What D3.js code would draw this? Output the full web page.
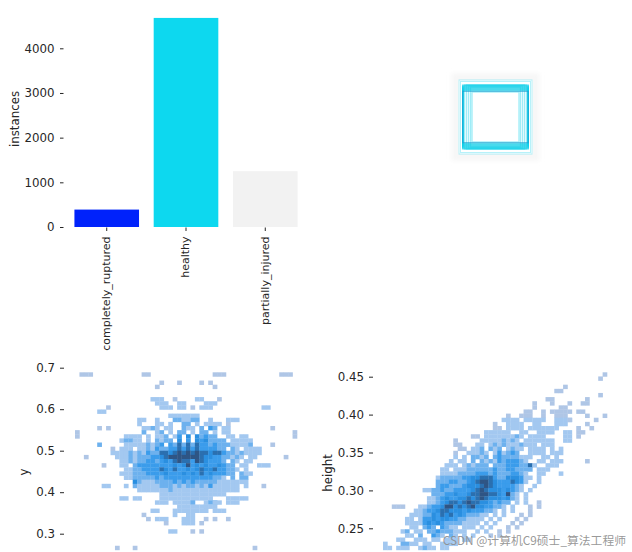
<!DOCTYPE html>
<html><head><meta charset="utf-8">
<script src="https://cdn.jsdelivr.net/npm/d3@7"></script>
<style>html,body{margin:0;padding:0;background:#fff}svg{display:block}</style></head>
<body><div id="c"></div>
<script>
const categories=["completely_ruptured","healthy","partially_injured"];
const instances=[390,4680,1250];
const barColors=["#0424fb","#10d8ef","#f2f2f2"];
const barTicks=[0,1000,2000,3000,4000];
const yTicks=[0.3,0.4,0.5,0.6,0.7];
const heightTicks=[0.25,0.30,0.35,0.40,0.45];
const outerBoxes=[[.73,.74],[.70,.71]];
const wideBoxes=[[.655,.53],[.655,.54],[.655,.55],[.655,.56],[.655,.57],[.655,.58],[.655,.59],[.655,.60],[.655,.61],[.655,.62],[.655,.63],[.655,.64]];
const narrowBoxes=[[.50,.60],[.54,.62],[.58,.64],[.62,.64],[.47,.50]];
const edgeBox=[[.655,.515]];
// heat levels per bin: "startBin:levels" for each row of the histogram
const yHist=[
"1:111 15:11 31:111 46:111","",
"19:1 23:1 28:1 30:1","18:1 31:1","","",
"17:222 22:1 27:22 32:1","18:222 23:22 29:222",
"7:1 19:222 23:22 26:1 28:222 42:22","5:22",
"21:2222222","14:22 18:2 22:332233 30:2 34:222",
"14:2 18:22 21:2 24:33 27:2 29:22 31:22 34:1",
"5:1 7:1 15:22 17:3 18:2 20:22 24:3 25:22 28:3 30:43 33:22 44:1",
"0:1 15:3 18:2 19:3 21:2 23:33 26:2 28:3 29:3 31:2 33:22 49:1",
"0:1 11:2222 16:2 18:22 20:3 22:2 23:4 25:5 27:5 28:3 29:43 31:3 34:22 37:22 49:1",
"10:23322 16:2 18:32 20:33 23:5 25:4 27:5 28:4 29:53 31:33 33:3 35:22 37:222",
"5:3 11:2222 15:2 16:32 18:3 19:4 21:4 22:3 23:6 24:3 25:6 26:3 27:6 28:4 29:4 30:3 31:4 32:3 33:3 34:32 36:2 37:223 44:1",
"8:1 10:222 14:22 16:3 17:2 18:4 19:3 20:3 21:4 22:4 23:6 24:4 25:6 26:4 27:6 28:4 29:4 30:4 31:4 32:3 33:3 35:3 36:2 38:222 41:2",
"8:22 10:22 12:3 13:2 14:3 15:2 16:4 17:3 18:3 19:6 20:6 21:5 22:6 23:7 24:6 25:7 26:6 27:7 28:6 29:6 30:5 31:6 32:6 33:4 34:3 35:3 36:2 37:3 38:2 39:222",
"2:1 9:22 11:2 12:3 13:2 14:3 15:3 16:3 17:4 18:4 19:5 20:6 21:7 22:7 23:7 24:7 25:7 26:7 27:7 28:6 29:5 30:5 31:4 32:4 33:3 34:3 35:2 36:3 37:2 39:22 47:1",
"10:22 12:3 13:2 14:3 15:3 16:4 17:4 18:3 19:4 20:5 21:4 22:6 23:7 24:6 25:6 26:4 27:7 28:6 29:5 30:4 31:4 32:4 33:3 35:3 36:2 38:22",
"6:1 10:22 13:3 14:4 15:4 16:4 17:4 18:4 19:4 20:4 21:4 22:5 23:4 24:5 25:7 26:4 27:5 28:4 29:5 30:4 31:4 32:5 33:4 34:3 35:3 37:22 41:222",
"11:22 13:3 14:3 15:4 16:4 17:4 18:4 19:6 20:5 21:4 22:6 23:4 24:4 25:5 26:4 27:5 28:6 29:5 30:5 31:6 32:4 33:4 34:3 35:3 36:2 38:2",
"10:222 13:3 14:3 15:3 16:4 17:4 18:4 19:4 20:5 21:4 22:4 23:4 24:5 25:4 26:5 27:4 28:6 29:4 30:5 31:4 32:4 33:4 34:3 35:3 37:3 38:22",
"11:22 13:3 14:3 15:3 16:3 17:3 18:4 19:3 20:4 21:4 22:4 23:4 24:4 25:4 26:4 27:4 28:4 29:4 30:4 31:3 32:3 33:2 35:3 37:3 38:3",
"13:5 14:3 15:2 16:2 17:2 18:3 19:3 20:3 21:3 22:4 23:3 24:4 25:3 26:4 27:3 28:3 29:3 30:3 31:3 32:2 33:22 35:22 37:22",
"6:22 11:2 13:3 14:2 15:2 16:222 19:3 20:3 21:3 22:2 23:3 24:2 25:3 26:3 27:2 28:3 29:2 30:4 31:2 32:222 35:22 38:2 42:1",
"14:22 16:222 19:22 21:3 22:2 23:2 24:2 25:222 28:222 31:222 34:222",
"19:22 21:222 24:22222 29:22 31:222",
"10:22 13:22 19:2222 23:222 26:222 29:22 34:2222 38:2",
"18:222 22:2 23:22 25:22 26:3 29:2 30:33 31:22 34:22 36:2",
"23:22 25:22222 29:222",
"17:22 22:222 25:2222 29:2 31:222",
"15:1 22:2 25:22",
"16:1 18:222 24:222 29:1 31:1 34:1",
"20:1 24:222 28:1","",
"21:22 26:1 28:1","","","",
"9:1 13:1 40:1"
];
const heightHist=[
"50:1","49:1","","41:1","39:11","49:1","37:11 46:1","34:1 38:1 42:1 45:11","34:1 40:11",
"32:11 36:1 38:1 39:1111 44:11","28:1 31:111 36:1 39:111 46:1 50:1","27:2222 32:22222 39:2222 42:1 48:1",
"25:1 28:2222 34:22 39:222 46:1","25:11 28:2222 33:2222 37:222 44:1 47:1","23:222222 31:22 35:2222 41:22 44:11",
"20:11 23:22 25:2222 29:2 30:3 31:2 33:2222 41:22 44:1","16:1 22:2 23:22 25:22 27:3 28:2 29:3 30:2 32:222 35:222 38:2 41:22",
"16:11 21:22 24:2 25:3 26:2 27:3 28:22 30:2 31:3 32:22 34:2 36:22 38:2",
"17:11 20:2 21:2 22:3 24:3 25:2 26:3 28:2 29:3 30:22 33:2 34:2 35:22 38:2 40:2",
"16:1 19:22 21:2 22:3 23:2 25:2 26:4 27:2 28:3 29:4 30:3 33:22 35:22 38:222",
"16:2 18:2 20:3 21:3 22:2 23:3 25:3 26:4 27:3 28:3 29:3 30:3 31:2 32:22 36:22 39:2",
"15:2 17:22 20:3 22:3 23:2 24:3 25:2 26:4 27:3 28:4 29:4 30:4 31:3 32:2 35:22 38:222 46:1",
"14:222 18:2 19:3 20:2 21:3 22:3 23:3 25:3 26:3 27:3 28:4 29:4 30:4 31:3 32:3 33:6 34:2 37:222",
"13:22 16:2 17:2 18:2 19:3 20:3 21:3 22:3 23:3 24:3 25:4 26:3 27:3 28:4 29:4 30:3 31:3 32:3 33:3 35:222",
"13:22 15:2 16:2 17:3 18:3 19:3 20:3 21:4 22:4 23:4 24:3 25:4 26:3 27:3 28:3 29:4 30:4 31:3 32:2 35:22 40:2",
"12:2 13:3 14:3 15:3 16:3 17:3 18:4 19:4 20:5 21:5 22:6 23:6 24:6 25:4 26:3 27:3 28:5 29:5 30:5 31:4 32:2 33:2 35:2",
"12:3 13:3 14:3 15:4 16:4 17:3 18:3 19:4 20:5 21:6 22:7 23:7 24:6 25:5 26:4 27:4 28:4 29:6 30:5 31:4 32:2 35:2",
"12:3 13:4 14:4 15:3 16:3 17:3 18:4 19:5 20:5 21:5 22:6 23:7 24:6 25:5 26:4 27:4 28:4 29:4 30:3 31:2 34:2",
"9:22 11:3 12:3 13:4 14:3 15:3 16:4 17:4 18:4 19:4 20:5 21:6 22:7 23:6 24:5 25:5 26:5 27:4 28:5 29:4 30:3 31:2 33:2",
"11:3 12:3 13:3 14:4 15:4 16:5 17:4 18:4 19:5 20:6 21:6 22:7 23:7 24:6 25:6 26:5 27:4 28:7 29:3 30:2 32:2",
"10:22 12:3 13:4 14:5 15:4 16:4 17:5 18:5 19:6 20:5 21:6 22:7 23:6 24:5 25:5 26:5 27:4 28:5 29:3 30:2 32:2",
"10:2 11:2 12:3 13:4 14:5 15:6 16:6 17:5 18:6 19:7 20:6 21:6 22:5 23:5 24:4 25:3 26:4 27:3 28:3 30:2 32:2 35:1",
"2:111 8:22 10:3 11:4 12:4 13:5 14:7 15:7 16:5 17:6 18:5 19:6 20:7 21:5 22:5 23:4 24:4 25:3 26:3 27:2 29:2 33:1 35:1",
"7:22 9:3 10:4 11:4 12:5 13:6 14:6 15:5 16:5 17:5 18:4 19:5 20:4 21:4 22:4 23:3 24:3 25:2 27:2 29:2 33:1",
"6:222 9:3 10:3 11:5 12:4 13:6 14:5 15:6 16:4 17:5 18:4 19:3 20:3 21:3 22:2 23:2 25:2 27:2 31:1 33:1",
"5:22 8:2 9:4 10:4 11:5 12:4 13:5 14:5 15:4 16:4 17:3 18:3 19:2 20:2 21:2 22:2 24:2 26:2 30:1 32:1",
"5:222 8:2 9:4 10:5 11:4 12:5 13:4 14:3 15:3 16:3 17:3 18:2 19:2 20:2 21:2 23:2 25:2 29:1 31:1",
"6:22 9:3 10:4 11:3 13:4 14:3 15:2 16:2 18:2 19:2 20:2 22:2 24:2 28:1 30:1",
"4:2 5:3 7:22 10:3 11:3 12:4 13:3 14:3 15:3 16:2 17:2 18:2 21:2 23:2 26:1 28:1",
"5:22 8:3 11:4 12:3 13:2 15:3 16:2 18:2 20:2 24:1 26:1",
"3:2 4:2 7:222 11:2 12:2 14:2 15:2 16:2 18:22",
"0:2 4:33 6:22 9:22 13:2 14:2 15:2 16:2",
"0:2 1:2 3:22 5:2 8:2 9:3 10:2 11:2 13:2 14:2"
];
const binColors={1:"#afc6e6",2:"#a3c8f0",3:"#6db1ee",4:"#3a9ceb",5:"#2a8fe0",6:"#2b6fb0",7:"#2f5585"};

const W=632,H=552;
const svg=d3.select("#c").append("svg").attr("width",W).attr("height",H).attr("viewBox",[0,0,W,H]).style("font-family","'DejaVu Sans'").style("fill","#262626");
const defs=svg.append("defs");
defs.append("filter").attr("id","soft").attr("x","-10%").attr("y","-10%").attr("width","120%").attr("height","120%").append("feGaussianBlur").attr("stdDeviation",0.55);
defs.append("filter").attr("id","haze").attr("x","-20%").attr("y","-20%").attr("width","140%").attr("height","140%").append("feGaussianBlur").attr("stdDeviation",2);

function styleAxis(g){
  g.select(".domain").remove();
  g.selectAll("line").attr("stroke","#262626").attr("stroke-width",1);
  g.selectAll("text").attr("fill","#262626").style("font-size","11.8px").style("font-family","'DejaVu Sans'");
}
function yLabel(txt,x,y){
  svg.append("text").attr("transform",`translate(${x},${y}) rotate(-90)`).attr("text-anchor","middle").attr("fill","#262626").style("font-size","11.8px").text(txt);
}

// bars
const xB=d3.scaleBand().domain(categories).range([66.5,305.5]).paddingInner(.185).paddingOuter(.1);
const yB=d3.scaleLinear().domain([0,4000]).range([227,48.3]);
svg.append("g").attr("filter","url(#soft)").selectAll("rect").data(categories).join("rect")
  .attr("x",d=>xB(d)).attr("width",xB.bandwidth())
  .attr("y",(d,i)=>yB(instances[i])).attr("height",(d,i)=>yB(0)-yB(instances[i]))
  .attr("fill",(d,i)=>barColors[i]);
svg.append("g").attr("transform","translate(63.5,0)").call(d3.axisLeft(yB).tickValues(barTicks).tickSize(3.5).tickPadding(5.5).tickFormat(d3.format("d"))).call(styleAxis);
const xAxis=svg.append("g").attr("transform","translate(0,227.5)").call(d3.axisBottom(xB).tickSize(3.5).tickPadding(3)).call(styleAxis);
xAxis.selectAll("text").style("font-size","11px").attr("transform","rotate(-90)").attr("text-anchor","end").attr("dy","0.35em").attr("x",-9).attr("y",-0.5);
yLabel("instances",19,119);

// boxes
const bg=svg.append("g");
const boxX=d3.scaleLinear().domain([-.5,.5]).range([445.5,545.5]);
const boxY=d3.scaleLinear().domain([-.5,.5]).range([67,167]);
bg.append("rect").attr("x",boxX(-.44)).attr("y",boxY(-.44)).attr("width",boxX(.44)-boxX(-.44)).attr("height",boxY(.44)-boxY(-.44)).attr("fill","#f7f7f7").attr("filter","url(#haze)");
const boxes=bg.append("g").attr("filter","url(#soft)");
boxes.append("rect").attr("x",boxX(-.37)).attr("y",boxY(-.37)).attr("width",boxX(.37)-boxX(-.37)).attr("height",boxY(.37)-boxY(-.37)).attr("fill","#fff");
function drawBoxes(list,color,op,sw){
  boxes.append("g").selectAll("rect").data(list).join("rect")
  .attr("x",d=>boxX(-d[0]/2)).attr("y",d=>boxY(-d[1]/2))
  .attr("width",d=>boxX(d[0])-boxX(0)).attr("height",d=>boxY(d[1])-boxY(0))
  .attr("fill","none").attr("stroke",color).attr("stroke-opacity",op).attr("stroke-width",sw);
}
drawBoxes(outerBoxes,"#10d0ea",.3,1);
drawBoxes(narrowBoxes,"#10d0ea",.4,1.3);
drawBoxes(wideBoxes,"#10d0ea",.42,1.4);
drawBoxes(edgeBox,"#1f9fd0",.8,1);

function parseHist(rows){
  const out=[];
  rows.forEach((r,row)=>{
    r.trim().split(/\s+/).filter(Boolean).forEach(seg=>{
      const [s,v]=seg.split(":");
      [...v].forEach((c,i)=>out.push({row,col:+s+i,level:+c}));
    });
  });
  return out;
}
function heat(rows,nCols,nRows,xr,top,rowH){
  const cols=d3.scaleBand().domain(d3.range(nCols)).range(xr);
  const rs=d3.scaleBand().domain(d3.range(nRows)).range([top,top+nRows*rowH]);
  svg.append("g").attr("filter","url(#soft)").selectAll("rect").data(parseHist(rows)).join("rect")
    .attr("x",d=>cols(d.col)).attr("y",d=>rs(d.row)).attr("width",cols.bandwidth()+.3).attr("height",rs.bandwidth()+.3)
    .attr("fill",d=>binColors[d.level]);
}
heat(yHist,50,44,[75,297],372.3,4.13);
const yL=d3.scaleLinear().domain([0.3,0.7]).range([533.7,367.7]);
svg.append("g").attr("transform","translate(64,0)").call(d3.axisLeft(yL).tickValues(yTicks).tickSize(4).tickPadding(5).tickFormat(d3.format(".1f"))).call(styleAxis);
yLabel("y",28,472);

heat(heightHist,51,44,[383,607],372.3,4.13);
const yR=d3.scaleLinear().domain([0.25,0.45]).range([528.3,376.7]);
svg.append("g").attr("transform","translate(373,0)").call(d3.axisLeft(yR).tickValues(heightTicks).tickSize(4).tickPadding(5).tickFormat(d3.format(".2f"))).call(styleAxis);
yLabel("height",332,473);

svg.append("text").attr("x",626).attr("y",544.5).attr("text-anchor","end").attr("fill","#8c8c8c").attr("fill-opacity",.9)
  .style("font-family","'Noto Sans CJK SC'").style("font-size","11.8px").text("CSDN @计算机C9硕士_算法工程师");
</script></body></html>
